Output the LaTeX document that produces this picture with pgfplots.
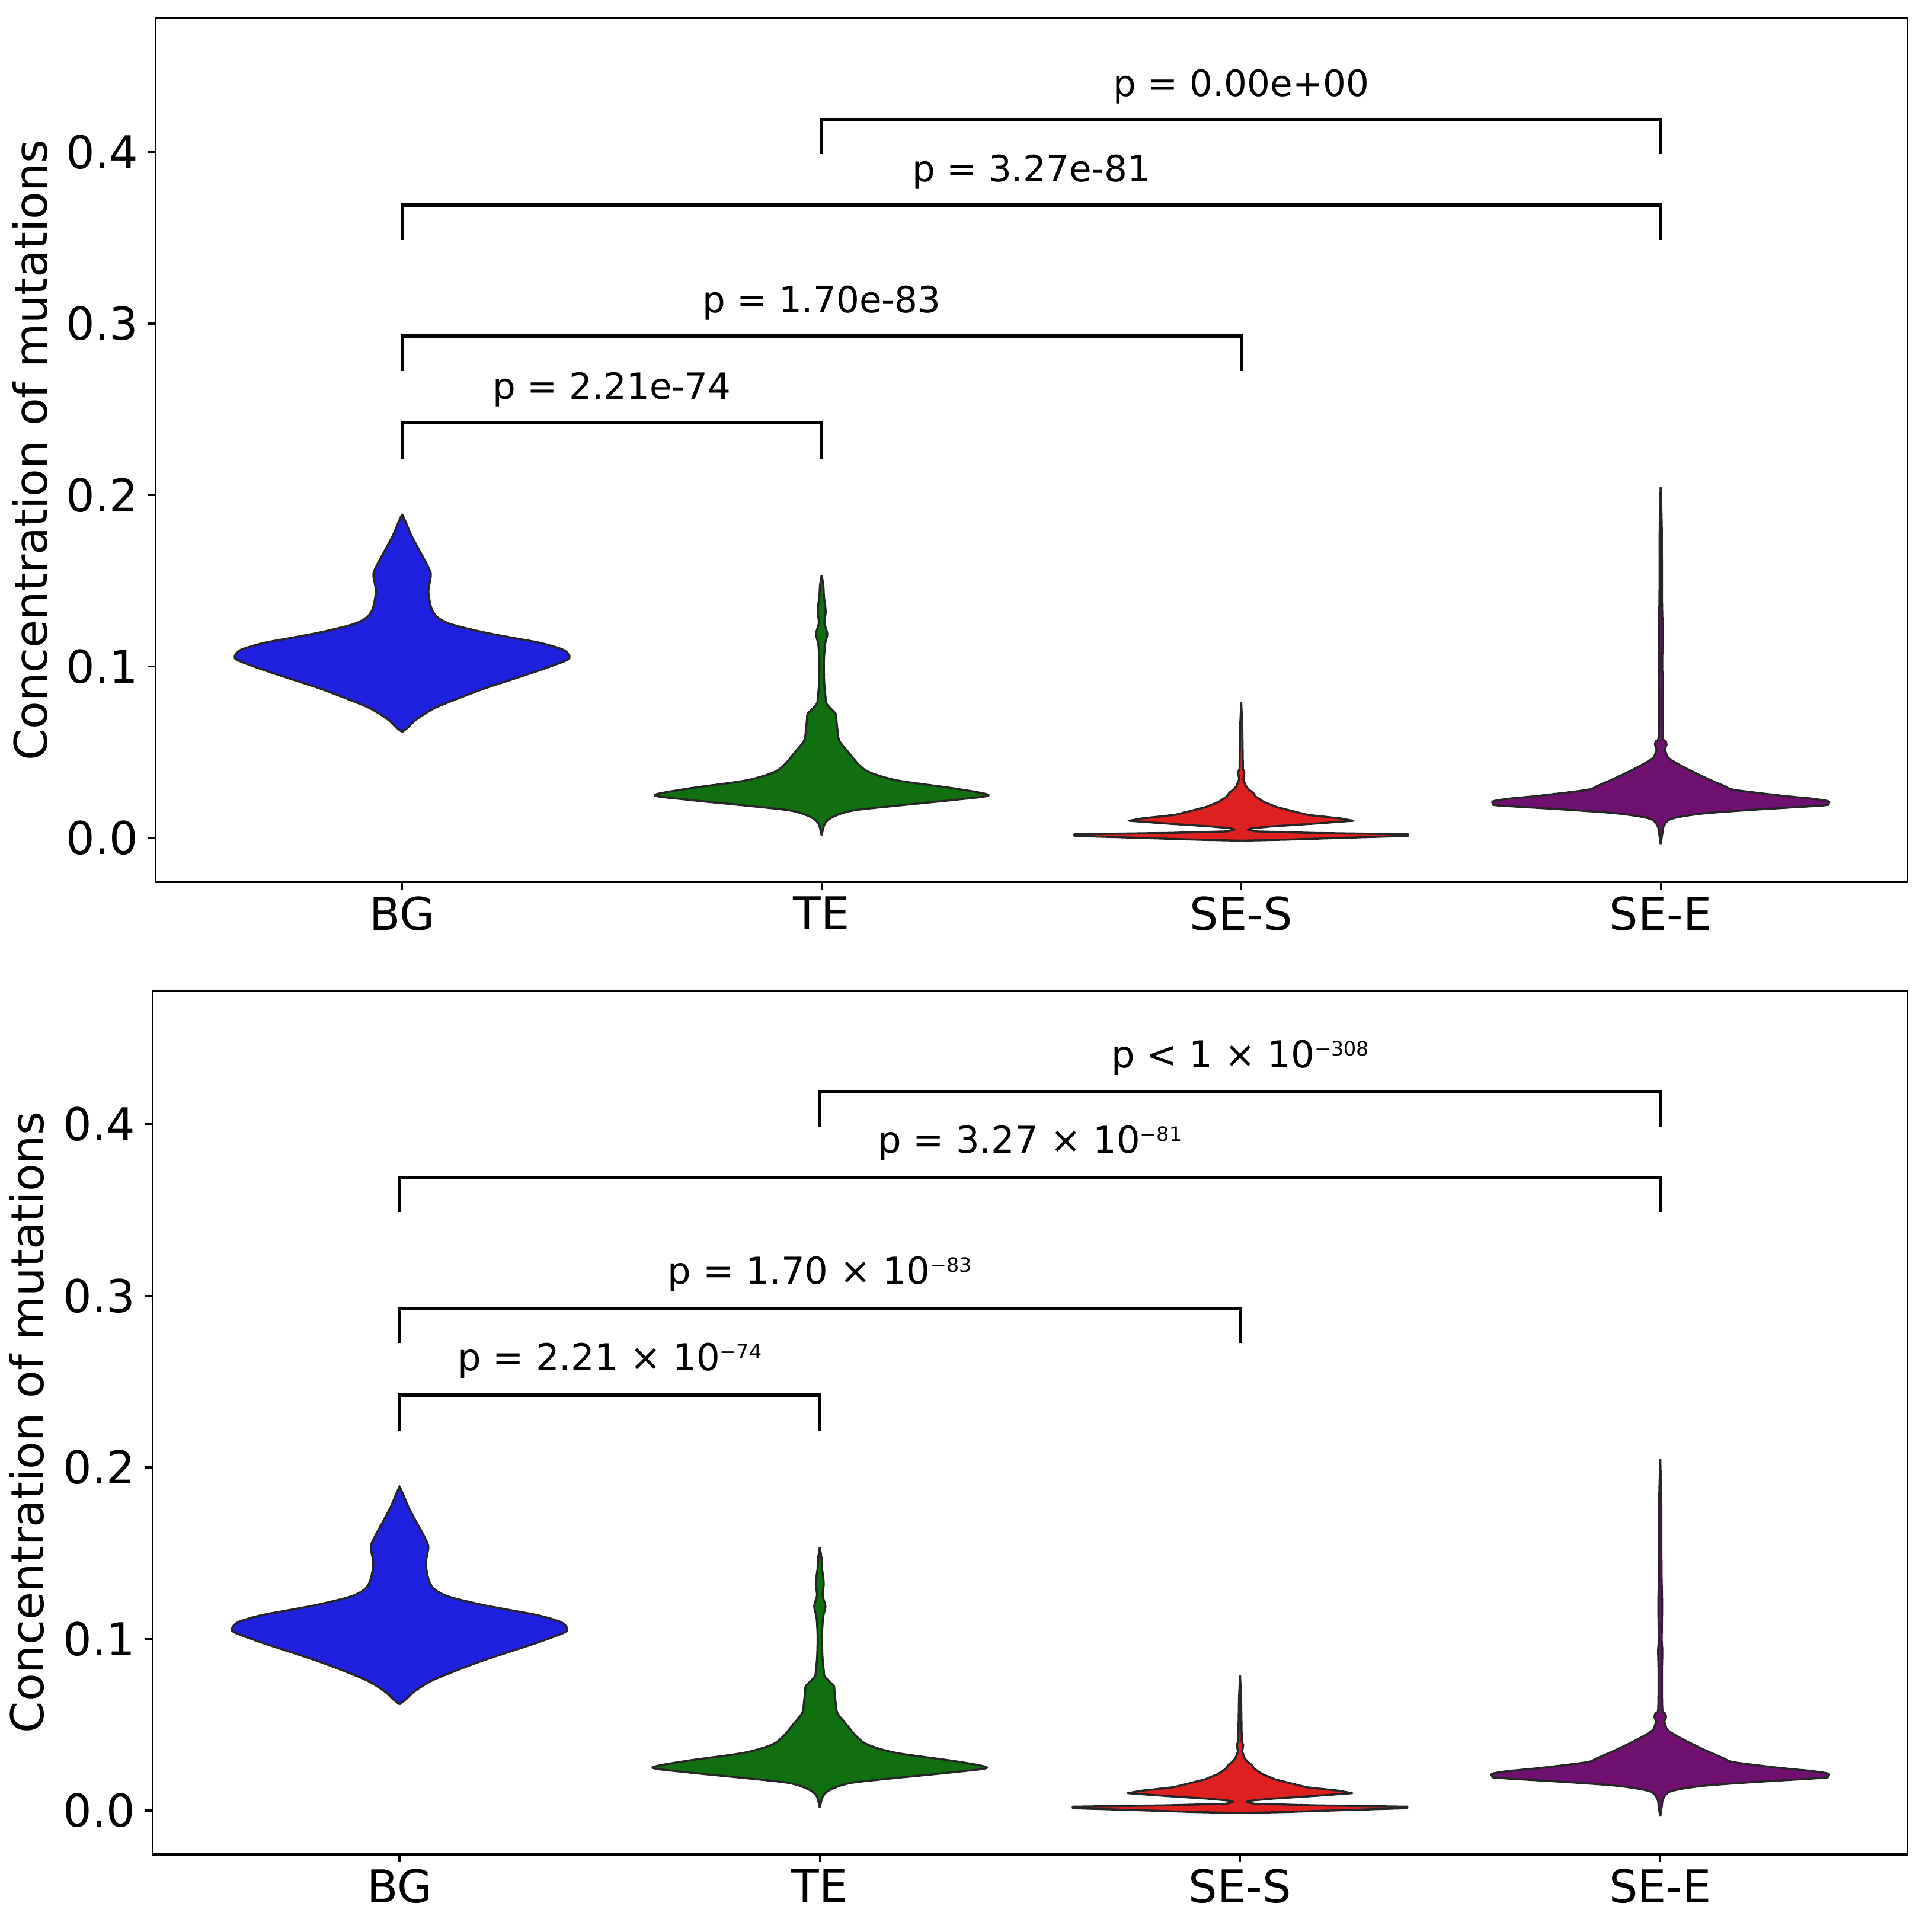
\documentclass[border=0pt]{standalone}
\usepackage{fontspec}
\setmainfont{DejaVu Sans}
\usepackage{pgfplots}
\pgfplotsset{compat=1.18}
\usepackage{pgfplotstable}

\definecolor{bgc}{RGB}{32,32,223}
\definecolor{tec}{RGB}{16,112,16}
\definecolor{ssc}{RGB}{223,32,32}
\definecolor{sec}{RGB}{112,16,112}
\definecolor{edgec}{RGB}{38,38,38}

% violin half-width profiles: y = value, w = half width (category units)
\pgfplotstableread{
y w
0.0619 0
0.0647 0.0148
0.0693 0.0349
0.0755 0.0753
0.0810 0.129
0.0872 0.196
0.0926 0.263
0.0981 0.331
0.1036 0.391
0.1060 0.399
0.1098 0.384
0.1137 0.331
0.1168 0.263
0.1199 0.196
0.1238 0.129
0.1261 0.102
0.1292 0.082
0.1331 0.0712
0.1378 0.0659
0.1440 0.0625
0.1502 0.0665
0.1541 0.0685
0.1596 0.0591
0.1674 0.0417
0.1767 0.0215
0.1845 0.0081
0.1888 0
}\bgdata

\pgfplotstableread{
y w
0.0016 0
0.0086 0.008
0.0125 0.0282
0.0161 0.0753
0.0190 0.183
0.0223 0.317
0.0250 0.398
0.0289 0.317
0.0335 0.183
0.0382 0.1156
0.0428 0.0887
0.0506 0.0618
0.0569 0.0417
0.0631 0.0376
0.0693 0.035
0.0724 0.0336
0.0755 0.0215
0.0786 0.0108
0.0818 0.0094
0.0880 0.0067
0.0960 0.0054
0.1036 0.0054
0.1129 0.008
0.1191 0.0134
0.1253 0.0067
0.1316 0.0094
0.1362 0.008
0.1409 0.0054
0.1471 0.004
0.1534 0
}\tedata

\pgfplotstableread{
y w
-0.0015 0
-0.0009 0.109
0.0001 0.235
0.0013 0.398
0.0022 0.398
0.0030 0.172
0.0039 0.034
0.0050 0.015
0.0058 0.028
0.0068 0.072
0.0084 0.172
0.0101 0.267
0.0115 0.235
0.0135 0.159
0.0150 0.134
0.0181 0.084
0.0212 0.053
0.0243 0.034
0.0266 0.028
0.0281 0.019
0.0304 0.011
0.0343 0.005
0.0382 0.0075
0.0405 0.004
0.0497 0.0035
0.0652 0.0025
0.0790 0
}\ssdata

\pgfplotstableread{
y w
-0.0035 0
0.0030 0.004
0.0065 0.0063
0.0112 0.025
0.0143 0.100
0.0166 0.226
0.0190 0.385
0.0200 0.399
0.0215 0.399
0.0230 0.36
0.0247 0.289
0.0281 0.176
0.0304 0.151
0.0359 0.100
0.0420 0.050
0.0466 0.019
0.0497 0.0125
0.0520 0.010
0.0544 0.0138
0.0567 0.0113
0.0590 0.005
0.0800 0.004
0.0930 0.005
0.1000 0.0035
0.1200 0.0045
0.1400 0.003
0.1800 0.0025
0.2048 0
}\sedata

% each half is closed along the centre line (w = 0 at both ends)
\newcommand{\violin}[4]{%
  \addplot[fill=#3, draw=#3, line width=0.2pt, #4] table[x expr={#2+\thisrow{w}}, y=y] {#1} -- cycle;
  \addplot[fill=#3, draw=#3, line width=0.2pt, #4] table[x expr={#2-\thisrow{w}}, y=y] {#1} -- cycle;
  \addplot[draw=edgec, line width=0.5pt, line join=round, #4] table[x expr={#2+\thisrow{w}}, y=y] {#1};
  \addplot[draw=edgec, line width=0.5pt, line join=round, #4] table[x expr={#2-\thisrow{w}}, y=y] {#1};
}

\newcommand{\sups}[1]{\raisebox{0.32em}{\fontsize{4.8}{5}\selectfont #1}}

\tikzset{
  ann/.style={anchor=base, font=\fontsize{8.8}{11}\selectfont, inner sep=0pt},
  annb/.style={anchor=base, font=\fontsize{9}{11}\selectfont, inner sep=0pt},
  brk/.style={black, line width=0.8pt, line join=miter},
}

\pgfplotsset{
  vstyle/.style={
    scale only axis, height=209.9pt,
    xmin=-0.588, xmax=3.588, ymin=-0.0256, ymax=0.478,
    xtick={0,1,2,3}, xticklabels={BG,TE,SE-S,SE-E},
    ytick={0,0.1,0.2,0.3,0.4}, yticklabels={0.0,0.1,0.2,0.3,0.4},
    tick align=outside, xtick pos=left, ytick pos=left,
    major tick length=1.85pt,
    every tick/.style={black, line width=0.5pt},
    axis line style={black, line width=0.5pt},
    ticklabel style={font=\fontsize{11}{13}\selectfont},
    xticklabel style={yshift=1.8pt},
    yticklabel style={xshift=1.2pt},
    ylabel={Concentration of mutations},
    ylabel style={font=\fontsize{11}{13}\selectfont, anchor=base},
  },
}

\begin{document}
\begin{tikzpicture}
\path[use as bounding box] (0,0) rectangle (469.44pt,466.27pt);

% ---------------- top panel ----------------
\begin{axis}[vstyle, width=425.7pt, at={(37.77pt,251.96pt)}, anchor=south west,
  ylabel style={at={(axis description cs:-0.0620,0.5)}}]
\violin{\bgdata}{0}{bgc}{smooth, tension=0.5}
\violin{\tedata}{1}{tec}{smooth, tension=0.5}
\violin{\ssdata}{2}{ssc}{}
\violin{\sedata}{3}{sec}{smooth, tension=0.5}

\addplot[brk, mark=none] coordinates {(0,0.2212) (0,0.2422) (1,0.2422) (1,0.2212)};
\addplot[brk, mark=none] coordinates {(0,0.2724) (0,0.2926) (2,0.2926) (2,0.2724)};
\addplot[brk, mark=none] coordinates {(0,0.3488) (0,0.3690) (3,0.3690) (3,0.3488)};
\addplot[brk, mark=none] coordinates {(1,0.3986) (1,0.4188) (3,0.4188) (3,0.3986)};

\node[ann] at (axis cs:0.5,0.2559) {p = 2.21e-74};
\node[ann] at (axis cs:1.0,0.3063) {p = 1.70e-83};
\node[ann] at (axis cs:1.5,0.3827) {p = 3.27e-81};
\node[ann] at (axis cs:2.0,0.4325) {p = 0.00e+00};
\end{axis}

% ---------------- bottom panel ----------------
\begin{axis}[vstyle, width=426.4pt, at={(37.05pt,15.70pt)}, anchor=south west,
  ylabel style={at={(axis description cs:-0.0619,0.5)}}]
\violin{\bgdata}{0}{bgc}{smooth, tension=0.5}
\violin{\tedata}{1}{tec}{smooth, tension=0.5}
\violin{\ssdata}{2}{ssc}{}
\violin{\sedata}{3}{sec}{smooth, tension=0.5}

\addplot[brk, mark=none] coordinates {(0,0.2212) (0,0.2422) (1,0.2422) (1,0.2212)};
\addplot[brk, mark=none] coordinates {(0,0.2724) (0,0.2926) (2,0.2926) (2,0.2724)};
\addplot[brk, mark=none] coordinates {(0,0.3488) (0,0.3690) (3,0.3690) (3,0.3488)};
\addplot[brk, mark=none] coordinates {(1,0.3986) (1,0.4188) (3,0.4188) (3,0.3986)};

\node[annb] at (axis cs:0.5,0.2565) {p = 2.21 × 10\sups{−74}};
\node[annb] at (axis cs:1.0,0.3069) {p = 1.70 × 10\sups{−83}};
\node[annb] at (axis cs:1.5,0.3833) {p = 3.27 × 10\sups{−81}};
\node[annb] at (axis cs:2.0,0.4331) {p < 1 × 10\sups{−308}};
\end{axis}
\end{tikzpicture}
\end{document}
